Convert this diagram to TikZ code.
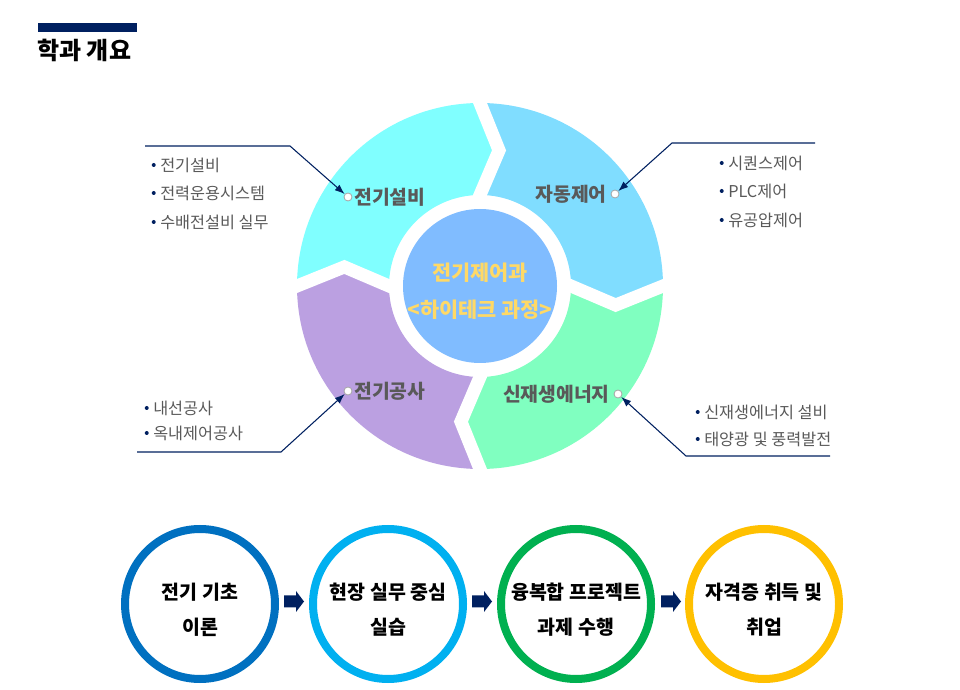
\documentclass[tikz,border=0pt]{standalone}
\usepackage{fontspec}
\setmainfont{Noto Sans CJK KR}
\usetikzlibrary{arrows.meta}

\definecolor{navy}{RGB}{0,32,96}
\definecolor{labelgray}{RGB}{89,89,89}
\definecolor{segcyan}{RGB}{128,255,255}
\definecolor{segsky}{RGB}{128,221,255}
\definecolor{segmint}{RGB}{128,255,192}
\definecolor{seglilac}{RGB}{187,160,225}
\definecolor{hubblue}{RGB}{128,188,255}
\definecolor{hubgold}{RGB}{255,217,102}
\definecolor{stageA}{RGB}{0,112,192}
\definecolor{stageB}{RGB}{0,176,240}
\definecolor{stageC}{RGB}{0,176,80}
\definecolor{stageD}{RGB}{255,192,0}

\begin{document}
\begin{tikzpicture}[x=0.75pt, y=0.75pt,
    seglabel/.style={inner sep=0pt, text=labelgray, font=\fontsize{14.5}{16}\selectfont\bfseries},
    dot/.style={circle, draw=gray!70, fill=white, line width=0.6pt, inner sep=0pt, minimum size=6pt},
    item/.style={anchor=west, inner sep=0pt, text=labelgray, font=\fontsize{12.2}{14}\selectfont,
      label={[circle, fill=navy, inner sep=0pt, minimum size=3pt, label distance=3pt]left:{}}},
    callout/.style={navy, line width=0.8pt, -{Latex[length=7.5pt,width=5.5pt]}},
    stage/.style={circle, line width=6pt, minimum size=112.5pt, inner sep=0pt},
    stagetext/.style={align=center, font=\fontsize{14.6}{26.25}\selectfont\bfseries},
    gapline/.style={white, line width=9.75pt, line cap=rect, line join=miter}]

    \useasboundingbox (0,0) rectangle (960,689);

    % title
    \fill[navy] (38,657) rectangle (137,666);
    \node[anchor=west, inner sep=0pt, font=\fontsize{18}{20}\selectfont\bfseries] (title) at (37,639) {학과 개요};

    % ring of four segments
    \begin{scope}[shift={(480,403)}]
    \foreach \a/\col in {180/segcyan, 90/segsky, 0/segmint, -90/seglilac}
      \fill[\col] (\a:183) arc[start angle=\a, end angle=\a-90, radius=183]
        -- (\a-98:137) -- (\a-90:91) arc[start angle=\a-90, end angle=\a, radius=91]
        -- (\a-8:137) -- cycle;
    \foreach \a in {180,90,0,-90}
      \draw[gapline] (\a:183) -- (\a-8:137) -- (\a:91);
    \fill[hubblue] (0,0) circle (77);
    \end{scope}

    \node[align=center, text=hubgold, font=\fontsize{15.6}{27.75}\selectfont\bfseries] (hub) at (480,397.5) {전기제어과\\<하이테크 과정>};

    \node[dot] (d1) at (348,492) {};
    \node[seglabel, anchor=west] (l1) at (354,492) {전기설비};
    \node[dot] (d2) at (615,495) {};
    \node[seglabel, anchor=east] (l2) at (607,495) {자동제어};
    \node[dot] (d3) at (348,298) {};
    \node[seglabel, anchor=west] (l3) at (354,298) {전기공사};
    \node[dot] (d4) at (618,295) {};
    \node[seglabel, anchor=east] (l4) at (610,295) {신재생에너지};

    % callouts
    \coordinate (a1) at (145,543);
    \coordinate (b1) at (290,543);
    \coordinate (a2) at (815,546);
    \coordinate (b2) at (672,546);
    \coordinate (a3) at (137,237);
    \coordinate (b3) at (281,237);
    \coordinate (a4) at (830,233);
    \coordinate (b4) at (686,233);
    \draw[callout] (a1) -- (b1) -- (d1);
    \draw[callout] (a2) -- (b2) -- (d2);
    \draw[callout] (a3) -- (b3) -- (d3);
    \draw[callout] (a4) -- (b4) -- (d4);

    \node[item] (i11) at (160,524) {전기설비};
    \node[item] (i12) at (160,496) {전력운용시스템};
    \node[item] (i13) at (160,467) {수배전설비 실무};
    \node[item] (i21) at (728,526) {시퀀스제어};
    \node[item] (i22) at (728,498) {PLC제어};
    \node[item] (i23) at (728,469) {유공압제어};
    \node[item] (i31) at (153,281) {내선공사};
    \node[item] (i32) at (153,256) {옥내제어공사};
    \node[item] (i41) at (704,277) {신재생에너지 설비};
    \node[item] (i42) at (704,250) {태양광 및 풍력발전};

    % stages
    \foreach \n/\x/\col in {1/200/stageA, 2/388/stageB, 3/576/stageC, 4/764/stageD}
      \node[stage, draw=\col] (s\n) at (\x,85) {};
    \node[stagetext] (t1) at (200,79.5) {전기 기초\\이론};
    \node[stagetext] (t2) at (388,79.5) {현장 실무 중심\\실습};
    \node[stagetext] (t3) at (576,79.5) {융복합 프로젝트\\과제 수행};
    \node[stagetext] (t4) at (764,79.5) {자격증 취득 및\\취업};

    \foreach \x in {294,482,671}
      \fill[navy] (\x-10,81.5) -- (\x+2,81.5) -- (\x+2,77) -- (\x+10,87.5)
        -- (\x+2,98) -- (\x+2,93.5) -- (\x-10,93.5) -- cycle;

\end{tikzpicture}
\end{document}
